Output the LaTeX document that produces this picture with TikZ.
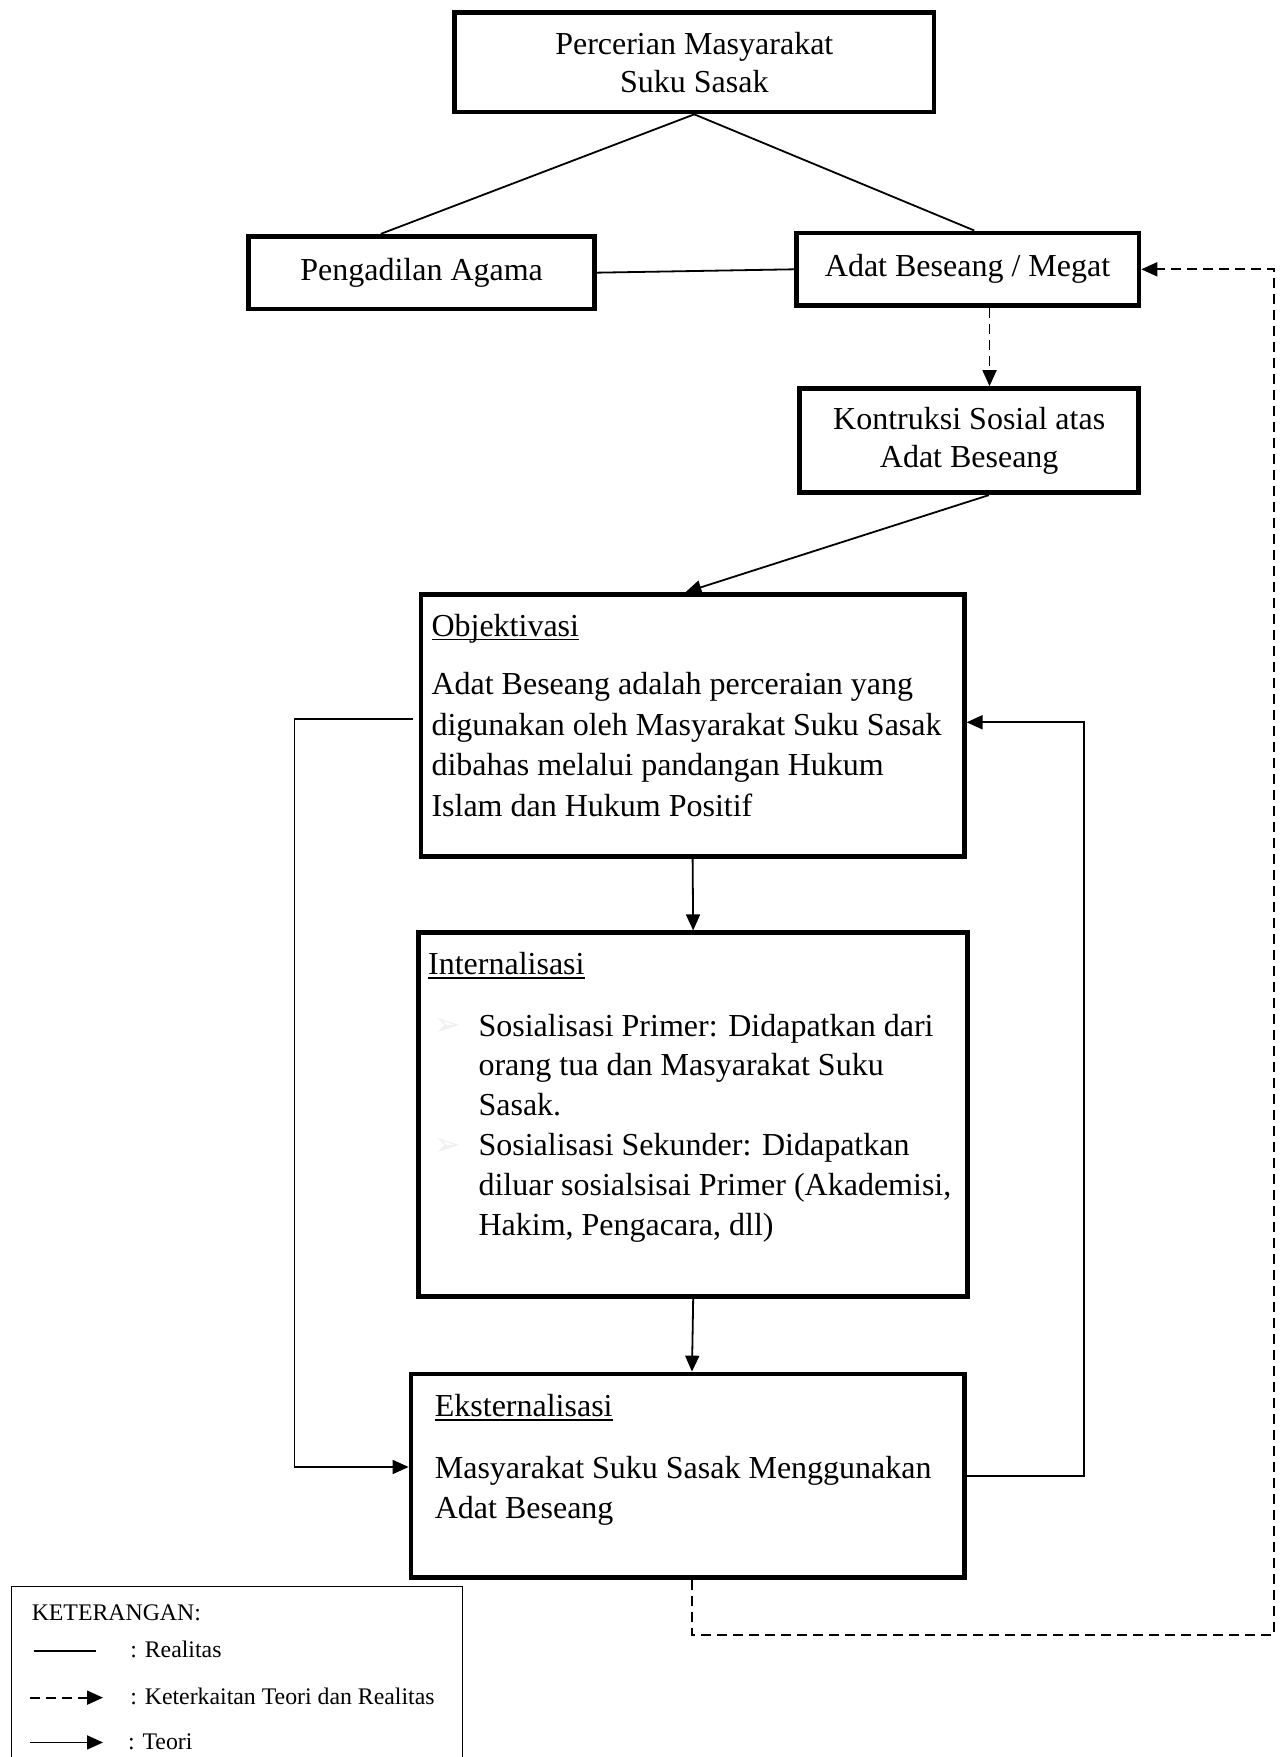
\documentclass[tikz,border=0pt]{standalone}
\usepackage{fontspec}
\setmainfont{Liberation Serif}
\newfontfamily\dejavu{DejaVu Sans}
\usetikzlibrary{arrows.meta,calc}
\newcommand\myul[1]{\setbox0\hbox{#1}\rlap{\rule[-2.2pt]{\wd0}{0.8pt}}\box0}
\tikzset{
  box/.style={draw, line width=2.4pt, rectangle, inner sep=0pt, align=center,
    font=\fontsize{16}{19}\selectfont},
  txt/.style={inner sep=0pt, align=left, font=\fontsize{16}{20.3}\selectfont},
  legtxt/.style={inner sep=0pt, anchor=base west, font=\fontsize{11.9}{14}\selectfont},
  conn/.style={line width=0.9pt},
  arr/.style={line width=0.9pt, -{Triangle[length=8pt,width=7pt]}},
  darr/.style={line width=0.9pt, dash pattern=on 5pt off 3pt, -{Triangle[length=8pt,width=7pt]}},
  legbox/.style={draw, line width=0.6pt, rectangle, inner sep=0pt},
  bul/.style={inner sep=0pt, anchor=base west, text=gray!12, font=\dejavu\fontsize{16}{18}\selectfont}
}
\begin{document}
\begin{tikzpicture}[x=0.56pt,y=-0.56pt]
\useasboundingbox (0,0) rectangle (1146,1569);
\fill[white] (0,0) rectangle (1146,1569);

% boxes
\node[box, minimum width=239.7pt, minimum height=49.8pt] (top) at (620,55.5)
  {Percerian Masyarakat\\Suku Sasak};
\node[box, minimum width=173pt, minimum height=36.4pt] (peng) at (376.5,243.5) {Pengadilan Agama};
\node[box, minimum width=171.4pt, minimum height=36.4pt] (adat) at (864,240.5) {Adat Beseang / Megat};
\node[box, minimum width=169.7pt, minimum height=52.1pt] (kon) at (865.5,393.5)
  {Kontruksi Sosial atas\\Adat Beseang};
\node[box, minimum width=271.6pt, minimum height=131pt] (obj) at (618.5,648) {};
\node[box, minimum width=274.4pt, minimum height=182pt] (int) at (619,995.5) {};
\node[box, minimum width=276.6pt, minimum height=101.9pt] (eks) at (614,1318) {};

% texts inside boxes
\node[txt, anchor=base west] (objh) at (385,568) {\myul{Objektivasi}};
\node[txt, anchor=north west] (objp) at (385,600)
  {Adat Beseang adalah perceraian yang\\digunakan oleh Masyarakat Suku Sasak\\dibahas melalui pandangan Hukum\\Islam dan Hukum Positif};
\node[txt, anchor=base west] (inth) at (382,870) {\myul{Internalisasi}};
\node[bul] (b1) at (388,925) {➢};
\node[bul] (b2) at (388,1032) {➢};
\node[txt, anchor=north west, font=\fontsize{16}{19.9}\selectfont] (intp) at (427,905)
  {Sosialisasi Primer: Didapatkan dari\\orang tua dan Masyarakat Suku\\Sasak.\\Sosialisasi Sekunder: Didapatkan\\diluar sosialsisai Primer (Akademisi,\\Hakim, Pengacara, dll)};
\node[txt, anchor=base west] (eksh) at (388,1265) {\myul{Eksternalisasi}};
\node[txt, anchor=north west] (eksp) at (388,1300)
  {Masyarakat Suku Sasak Menggunakan\\Adat Beseang};

% connectors
\draw[conn] (top.south) -- ([xshift=-20.4pt]peng.north);
\draw[conn] (top.south) -- ([xshift=3.4pt]adat.north);
\draw[conn] (peng.east) -- (adat.west);
\draw[darr] ([xshift=11pt]adat.south) -- ([xshift=11pt]adat.south |- kon.north);
\draw[arr] ([xshift=9.8pt]kon.south) -- ([xshift=-3.6pt]obj.north);
\draw[arr] (obj.south) -- (int.north);
\draw[arr] (int.south) -- ([xshift=2.2pt]eks.north);

\coordinate (L1) at (263,642);
\coordinate (L2) at (263,1310);
\draw[arr, shorten <=3pt] (obj.west |- L1) -- (L1) -- (L2) -- (eks.west |- L2);
\coordinate (R1) at (968,1318);
\coordinate (R2) at (968,645);
\draw[arr] (eks.east |- R1) -- (R1) -- (R2) -- (obj.east |- R2);

\coordinate (D1) at (618,1460);
\coordinate (D2) at (1138,1460);
\coordinate (D3) at (1138,240.5);
\draw[darr] (eks.south -| D1) -- (D1) -- (D2) -- (D3) -- (adat.east);

% legend
\node[legbox, minimum width=225.7pt, minimum height=95.2pt] (leg) at (211.5,1502) {};
\node[legtxt] (ket) at (28,1447) {KETERANGAN:};
\coordinate (la1) at (30,1474);
\coordinate (la2) at (86,1474);
\draw[conn] (la1) -- (la2);
\node[legtxt] (lr) at (116,1480) {: Realitas};
\coordinate (lb1) at (27,1516);
\coordinate (lb2) at (92,1516);
\draw[darr] (lb1) -- (lb2);
\node[legtxt] (lk) at (116,1522) {: Keterkaitan Teori dan Realitas};
\coordinate (lc1) at (27,1556);
\coordinate (lc2) at (92,1556);
\draw[arr] (lc1) -- (lc2);
\node[legtxt] (lt) at (114,1562) {: Teori};
\end{tikzpicture}
\end{document}
